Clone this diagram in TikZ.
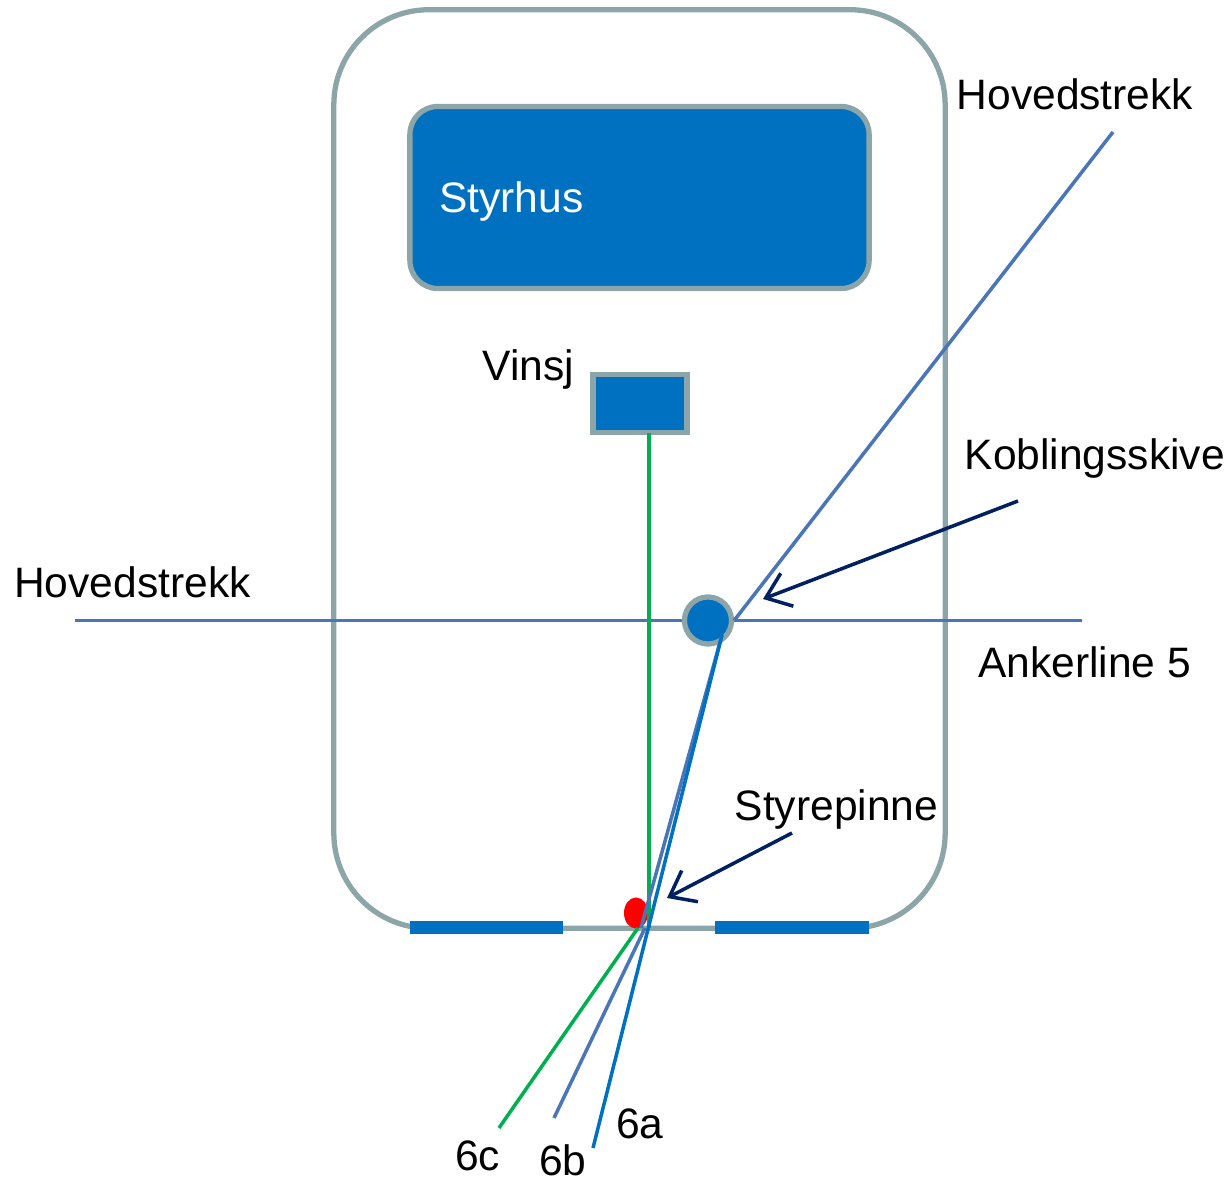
\documentclass[tikz,border=0pt]{standalone}
\usepackage{fontspec}
\setmainfont{Liberation Sans}
\usetikzlibrary{arrows.meta,shapes.geometric}
\definecolor{framegray}{HTML}{8CA5A9}
\definecolor{deckblue}{HTML}{0070C0}
\definecolor{wireblue}{HTML}{4A76B8}
\definecolor{guidegreen}{HTML}{00B050}
\definecolor{pointernavy}{HTML}{002060}
\tikzset{
  label text/.style={inner sep=0pt,anchor=base west,font=\fontsize{12.1}{14}\selectfont},
  deck box/.style={draw=framegray,line width=1.5pt,fill=deckblue},
  wire/.style={wireblue,line width=1pt},
  guide/.style={guidegreen,line width=1pt},
  line six/.style={deckblue,line width=1pt},
  pointer/.style={pointernavy,line width=1pt,-{Straight Barb[length=6.5pt,width=10pt]}},
}
\begin{document}
\begin{tikzpicture}[x=0.01cm,y=-0.01cm]
	\useasboundingbox (0,0) rectangle (1232,1180);

	\node[draw=framegray,line width=1.5pt,rounded corners=0.95cm,minimum width=6.11cm,minimum height=9.18cm,inner sep=0pt] (hull) at (639.5,469) {};
	\node[deck box,rounded corners=0.28cm,minimum width=4.59cm,minimum height=1.82cm,inner sep=0pt] (styrhus) at (639.5,197.5) {};
	\node[deck box,minimum width=0.94cm,minimum height=0.58cm,inner sep=0pt] (vinsj) at (640,403.5) {};
	\node[fill=deckblue,minimum width=1.53cm,minimum height=0.13cm,inner sep=0pt] (barleft) at (486.5,928) {};
	\node[fill=deckblue,minimum width=1.53cm,minimum height=0.13cm,inner sep=0pt] (barright) at (792,928) {};
	\node[fill=red,ellipse,minimum width=0.24cm,minimum height=0.31cm,inner sep=0pt] (pinne) at (636,913) {};
	\node[circle,deck box,minimum size=0.47cm,inner sep=0pt] (skive) at (708,620.5) {};

	\foreach \n/\p in {wl/{75,620.5}, wr/{1082,620.5}, wt/{1113,132}, fork/{722,635}, gtop/{649,433}, gbot/{649,928}, gout/{638,928}, gend/{499,1128}, bout/{641,928}, bin/{645,928}, bend/{554,1118}, aend/{593,1148}, ka/{1018,501}, kb/{763,599}, pa/{792,833}, pb/{667,898}} {
		\coordinate (\n) at (\p);
	}

	\draw[wire] (wl) -- (skive.west);
	\draw[wire] (skive.east) -- (wr);
	\draw[wire] (skive.east) -- (wt);
	\draw[guide] (gtop) -- (gbot);
	\draw[guide] (gout) -- (gend);
	\draw[wire] (fork) -- (bout);
	\draw[wire] (bin) -- (bend);
	\draw[line six] (fork) -- (aend);
	\draw[pointer] (ka) -- (kb);
	\draw[pointer] (pa) -- (pb);

	\node[label text,white] (styrhustext) at (438.5,213) {Styrhus};
	\foreach \n/\x/\y/\t in {hova/956/110/Hovedstrekk, hovb/13.5/598/Hovedstrekk, kobl/964/470/Koblingsskive, vins/482/380.5/Vinsj, anke/977.5/678/Ankerline 5, styr/734/821/Styrepinne, sixa/615.5/1139/6a, sixb/538.5/1176/6b, sixc/454.5/1171/6c} {
		\node[label text] (\n) at (\x,\y) {\t};
	}
\end{tikzpicture}
\end{document}
